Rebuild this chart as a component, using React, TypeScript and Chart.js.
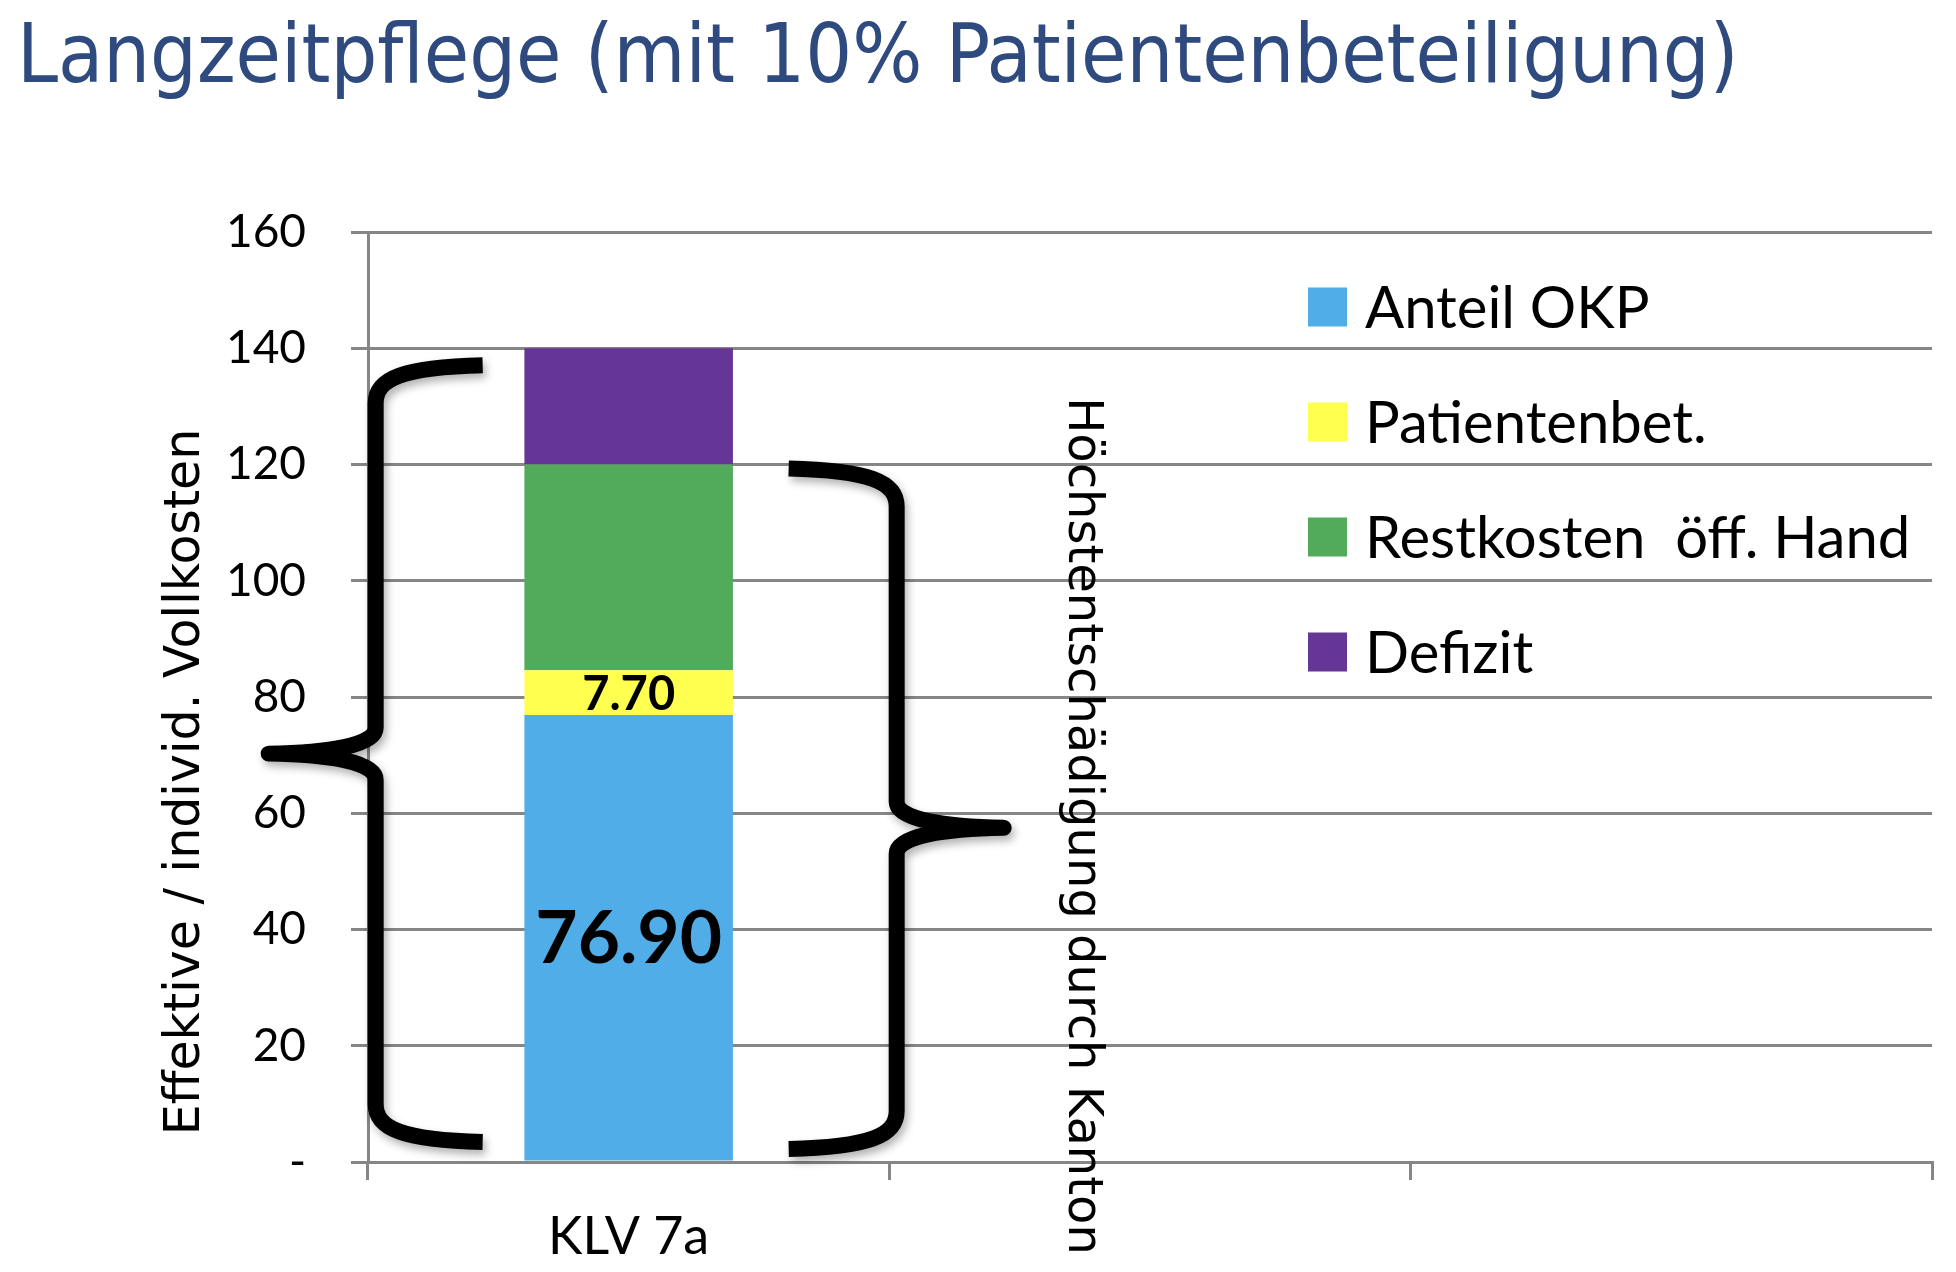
import React, { useEffect, useRef } from 'react';
import { Chart, registerables } from 'chart.js';
import type { Plugin } from 'chart.js';

Chart.register(...registerables);

const TITLE = 'Langzeitpflege (mit 10% Patientenbeteiligung)';
const CATEGORIES = ['KLV 7a', '', ''];
const SERIES_LABELS = ['Anteil OKP', 'Patientenbet.', 'Restkosten  öff. Hand', 'Defizit'];
const ANTEIL_OKP = [76.9, null, null];
const PATIENTENBET = [7.7, null, null];
const RESTKOSTEN = [35.4, null, null];
const DEFIZIT = [20, null, null];
const Y_MAX = 160;
const Y_STEP = 20;
const Y_TICK_LABELS = ['-', '20', '40', '60', '80', '100', '120', '140', '160'];
const Y_TITLE = 'Effektive / individ. Vollkosten';
const BRACE_TEXT = 'Höchstentschädigung durch Kanton';
// value ranges spanned by the two braces
const VOLLKOSTEN_RANGE = [0, 140];
const HOECHST_RANGE = [0, 120];

const GRID = '#868686';
const SANS = "'DejaVu Sans', Verdana, sans-serif";
const CAL = "Lato, 'Liberation Sans', sans-serif";

const valueLabels: Plugin<'bar'> = {
  id: 'valueLabels',
  afterDatasetsDraw(chart) {
    const { ctx } = chart;
    chart.data.datasets.forEach((ds: any, di) => {
      if (!ds.valueFont) return;
      chart.getDatasetMeta(di).data.forEach((bar: any, i) => {
        const v = ds.data[i];
        if (v == null) return;
        const { x, y, base } = bar.getProps(['x', 'y', 'base'], true);
        ctx.save();
        ctx.font = `bold ${ds.valueFont}px ${CAL}`;
        ctx.fillStyle = '#000';
        ctx.textAlign = 'center';
        ctx.textBaseline = 'middle';
        ctx.fillText(v.toFixed(2), x, (y + base) / 2 + 2);
        ctx.restore();
      });
    });
  },
};

function drawBrace(ctx: CanvasRenderingContext2D, xEnd: number, xV: number, xTip: number,
  yTop: number, yBot: number, tipShift: number) {
  const yMid = (yTop + yBot) / 2 + tipShift;
  const r = 38;
  const t = 26;
  ctx.beginPath();
  ctx.moveTo(xEnd, yTop);
  ctx.bezierCurveTo(xV + (xEnd - xV) * 0.25, yTop + 2, xV, yTop + r * 0.35, xV, yTop + r);
  ctx.lineTo(xV, yMid - t);
  ctx.bezierCurveTo(xV, yMid - 8, xV + (xTip - xV) * 0.45, yMid - 1, xTip, yMid);
  ctx.bezierCurveTo(xV + (xTip - xV) * 0.45, yMid + 1, xV, yMid + 8, xV, yMid + t);
  ctx.lineTo(xV, yBot - r);
  ctx.bezierCurveTo(xV, yBot - r * 0.35, xV + (xEnd - xV) * 0.25, yBot - 2, xEnd, yBot);
  ctx.stroke();
}

const annotations: Plugin<'bar'> = {
  id: 'annotations',
  afterDatasetsDraw(chart) {
    const { ctx, chartArea } = chart;
    const xs = chart.scales.x;
    const ys = chart.scales.y;
    const cx = xs.getPixelForValue(0);
    ctx.save();
    ctx.strokeStyle = '#000';
    ctx.lineWidth = 16;
    ctx.lineJoin = 'round';
    ctx.shadowColor = 'rgba(0,0,0,0.3)';
    ctx.shadowBlur = 8;
    ctx.shadowOffsetX = 3;
    ctx.shadowOffsetY = 5;
    drawBrace(ctx, cx - 146, cx - 253, cx - 360,
      ys.getPixelForValue(VOLLKOSTEN_RANGE[1]) + 17, ys.getPixelForValue(VOLLKOSTEN_RANGE[0]) - 20, 0);
    drawBrace(ctx, cx + 160, cx + 268, cx + 375,
      ys.getPixelForValue(HOECHST_RANGE[1]) + 4, ys.getPixelForValue(HOECHST_RANGE[0]) - 13, 19);
    ctx.restore();

    // rotated texts
    ctx.save();
    ctx.fillStyle = '#000';
    ctx.font = `49px ${SANS}`;
    ctx.textAlign = 'center';
    ctx.textBaseline = 'middle';
    ctx.translate(chartArea.left - 182, chartArea.bottom - 380);
    ctx.rotate(-Math.PI / 2);
    ctx.fillText(Y_TITLE, 0, 0);
    ctx.restore();

    ctx.save();
    ctx.fillStyle = '#000';
    ctx.font = `48px ${SANS}`;
    ctx.textAlign = 'center';
    ctx.textBaseline = 'middle';
    ctx.translate(cx + 453, chartArea.bottom - 336);
    ctx.rotate(Math.PI / 2);
    ctx.fillText(BRACE_TEXT, 0, 0);
    ctx.restore();

    // legend
    ctx.save();
    ctx.font = `58px ${CAL}`;
    ctx.textAlign = 'left';
    ctx.textBaseline = 'middle';
    chart.data.datasets.forEach((ds: any, i) => {
      const y = chartArea.top + 75 + i * 115;
      const x = chartArea.left + 940;
      ctx.fillStyle = ds.backgroundColor;
      ctx.fillRect(x, y - 19.5, 39, 39);
      ctx.fillStyle = '#000';
      ctx.fillText(ds.label, x + 57, y + 2);
    });
    ctx.restore();
  },
};

const App: React.FC = () => {
  const canvasRef = useRef<HTMLCanvasElement>(null);
  const chartRef = useRef<Chart | null>(null);

  useEffect(() => {
    document.body.style.margin = '0';
    if (!canvasRef.current) return;
    if (chartRef.current) chartRef.current.destroy();
    const ctx = canvasRef.current.getContext('2d');
    if (!ctx) return;

    chartRef.current = new Chart(ctx, {
      type: 'bar',
      data: {
        labels: CATEGORIES,
        datasets: [
          { label: SERIES_LABELS[0], data: ANTEIL_OKP, backgroundColor: '#50ADE8', valueFont: 73 } as any,
          { label: SERIES_LABELS[1], data: PATIENTENBET, backgroundColor: '#FFFF50', valueFont: 47 } as any,
          { label: SERIES_LABELS[2], data: RESTKOSTEN, backgroundColor: '#52AB5B' },
          { label: SERIES_LABELS[3], data: DEFIZIT, backgroundColor: '#653696' },
        ],
      },
      options: {
        animation: false,
        responsive: true,
        maintainAspectRatio: false,
        layout: { padding: { left: 17, right: 24, top: 0, bottom: 0 } },
        datasets: { bar: { barPercentage: 0.4, categoryPercentage: 1, borderWidth: 0 } },
        plugins: {
          legend: { display: false },
          tooltip: { enabled: false },
          title: {
            display: true,
            text: TITLE,
            align: 'start',
            color: '#2E4A7E',
            font: { family: "'DejaVu Sans Condensed', 'DejaVu Sans', sans-serif", size: 82, weight: 'normal' },
            padding: { top: 12, bottom: 121.6 },
          },
        },
        scales: {
          x: {
            stacked: true,
            grid: { drawOnChartArea: false, drawTicks: true, tickLength: 18, color: GRID, lineWidth: 3 },
            border: { color: GRID, width: 3 },
            ticks: { color: '#000', font: { family: CAL, size: 52 }, padding: 26, maxRotation: 0 },
            afterFit: (scale) => { scale.height = 110; },
          },
          y: {
            stacked: true,
            min: 0,
            max: Y_MAX,
            grid: { color: GRID, lineWidth: 3, tickLength: 17 },
            border: { color: GRID, width: 3 },
            ticks: {
              stepSize: Y_STEP,
              color: '#000',
              font: { family: CAL, size: 46 },
              padding: 45,
              callback: (_v, i) => Y_TICK_LABELS[i],
            },
            afterFit: (scale) => { scale.width = 351; },
          },
        },
      },
      plugins: [valueLabels, annotations],
    });

    return () => {
      chartRef.current?.destroy();
      chartRef.current = null;
    };
  }, []);

  return (
    <div style={{ width: 1956, height: 1272, position: 'relative' }}>
      <canvas ref={canvasRef} />
    </div>
  );
};

export default App;
